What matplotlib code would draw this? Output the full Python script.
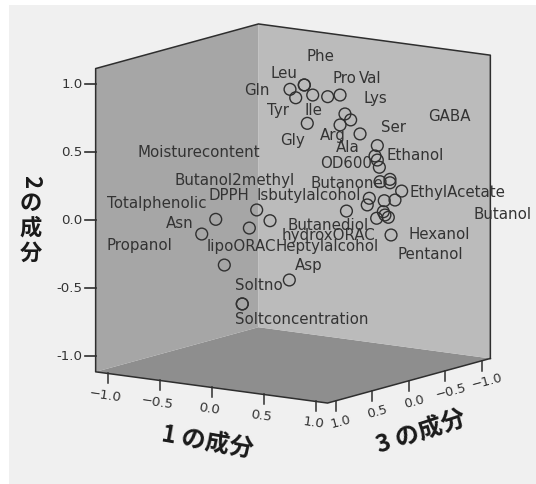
import matplotlib
matplotlib.use("Agg")
import matplotlib.pyplot as plt
from matplotlib.patches import Polygon, Rectangle

W, H = 536, 484
PX = 136.0               # pixels per plot unit
OX, OY = 293.0, 213.5    # pixel position of the cube centre
E1 = (104.0, 14.0)       # component 1 direction, px per unit
E3 = (-73.0, 20.0)       # component 3 direction, px per unit
HALF = 1.115

tick_values = [-1.0, -0.5, 0.0, 0.5, 1.0]
tick_text = ["\u22121.0", "\u22120.5", "0.0", "0.5", "1.0"]

# Points, in the projected plane of the cube (plot units)
point_h = [-0.022, 0.083, 0.083, 0.020, 0.145, 0.255, 0.346, 0.105, 0.382, 0.424, 0.346, 0.493,
           0.620, 0.603, 0.620, 0.635, 0.640, 0.713, 0.713, 0.799, 0.750, 0.671, 0.561, 0.546,
           0.664, 0.615, 0.701, 0.676, 0.721, 0.393, -0.267, -0.169, -0.568, -0.321, -0.671,
           -0.505, -0.027, -0.373, -0.373]
point_v = [0.913, 0.945, 0.945, 0.851, 0.871, 0.859, 0.871, 0.663, 0.732, 0.688, 0.651, 0.585,
           0.499, 0.423, 0.393, 0.340, 0.234, 0.251, 0.226, 0.165, 0.099, 0.094, 0.112, 0.063,
           0.013, -0.035, -0.028, -0.011, -0.158, 0.018, 0.026, -0.053, -0.043, -0.107, -0.151,
           -0.379, -0.489, -0.665, -0.665]

label_text = ["Phe", "Leu", "Gln", "Pro", "Val", "Lys", "Tyr", "Ile", "Gly", "Arg", "Ala", "Ser",
              "GABA", "Ethanol", "OD600", "Butanone", "EthylAcetate", "Butanol", "Hexanol",
              "Pentanol", "Moisturecontent", "Butanol2methyl", "DPPH", "Isbutylalcohol",
              "Totalphenolic", "Asn", "Propanol", "lipoORAC", "Butanediol", "hydroxORAC",
              "Heptylalcohol", "Asp", "Soltno", "Soltconcentration"]
label_h = [0.096, -0.162, -0.360, 0.294, 0.485, 0.522, -0.191, 0.088, -0.096, 0.199, 0.316, 0.647,
           0.993, 0.691, 0.199, 0.132, 0.860, 1.324, 0.846, 0.765, -1.147, -0.875, -0.625, -0.265,
           -1.368, -0.934, -1.375, -0.632, -0.044, -0.081, -0.132, 0.015, -0.426, -0.426]
label_v = [1.151, 1.033, 0.908, 0.996, 0.996, 0.849, 0.754, 0.761, 0.540, 0.570, 0.482, 0.636,
           0.710, 0.430, 0.364, 0.224, 0.158, -0.011, -0.151, -0.298, 0.452, 0.246, 0.129, 0.129,
           0.070, -0.070, -0.232, -0.239, -0.085, -0.165, -0.246, -0.386, -0.526, -0.783]

title_x = "1 \u306e\u6210\u5206"
title_z = "3 \u306e\u6210\u5206"
title_y_parts = ["2", "\u306e", "\u6210", "\u5206"]

WALL_L, WALL_R, FLOOR, EDGE, BG, INK = "#a6a6a6", "#bbbbbb", "#8e8e8e", "#2e2e2e", "#f0f0f0", "#333333"
CJK = ["Noto Sans CJK JP", "DejaVu Sans"]


def project(c1, c2, c3):
    h = (c1 * E1[0] + c3 * E3[0]) / PX
    v = c2 - (c1 * E1[1] + c3 * E3[1]) / PX
    return h, v


def off(p, dx, dy):
    return p[0] + dx / PX, p[1] - dy / PX


fig = plt.figure(figsize=(W / 100, H / 100), dpi=100, facecolor="white")
fig.patches.append(Rectangle((9 / W, 0), 1, 1 - 5 / H, transform=fig.transFigure, fc=BG, ec="none", zorder=-1))
ax = fig.add_axes([0, 0, 1, 1])
ax.set_xlim(-OX / PX, (W - OX) / PX)
ax.set_ylim((OY - H) / PX, OY / PX)
ax.axis("off")

L = HALF
floor = [project(-L, -L, L), project(L, -L, L), project(L, -L, -L), project(-L, -L, -L)]
left = [project(-L, -L, L), project(-L, L, L), project(-L, L, -L), project(-L, -L, -L)]
right = [project(-L, -L, -L), project(-L, L, -L), project(L, L, -L), project(L, -L, -L)]
ax.add_patch(Polygon(floor, fc=FLOOR, ec="none", zorder=1))
ax.add_patch(Polygon(left, fc=WALL_L, ec="none", zorder=1))
ax.add_patch(Polygon(right, fc=WALL_R, ec="none", zorder=1))

edges = [project(L, -L, -L), project(L, L, -L), project(-L, L, -L), project(-L, L, L),
         project(-L, -L, L), project(L, -L, L), project(L, -L, -L)]
ax.plot(*zip(*edges), color=EDGE, lw=1.1, zorder=2, solid_joinstyle="round")

for v, s in zip(tick_values, tick_text):
    a = project(-L, v, L)
    ax.plot(*zip(a, off(a, -11, 0)), color=EDGE, lw=1.2, zorder=2)
    ax.text(*off(a, -13, 0), s.replace("\u2212", "-"), ha="right", va="center", fontsize=9.6, color=INK)
    b = project(v, -L, L)
    ax.plot(*zip(b, off(b, 0, 10)), color=EDGE, lw=1.1, zorder=2)
    ax.text(*off(b, -2, 22), s, ha="center", va="center", fontsize=9.6, color=INK, rotation=-8,
            rotation_mode="anchor")
    c = project(L, -L, v)
    ax.plot(*zip(c, off(c, 0, 10)), color=EDGE, lw=1.1, zorder=2)
    ax.text(*off(c, 5, 21), s, ha="center", va="center", fontsize=9.4, color=INK, rotation=15,
            rotation_mode="anchor")

ax.scatter(point_h, point_v, s=72, facecolors="none", edgecolors="#303030", linewidths=1.0, zorder=3)
for t, h, v in zip(label_text, label_h, label_v):
    ax.text(h, v, t, ha="left", va="center", fontsize=10.8, color=INK, zorder=4)

ax.text(*off((0, 0), 207 - OX, 443 - OY), title_x, family=CJK, fontweight="bold", fontsize=17.5, color="#1a1a1a",
        ha="center", va="center", rotation=-10, rotation_mode="anchor")
ax.text(*off((0, 0), 421 - OX, 433 - OY), title_z, family=CJK, fontweight="bold", fontsize=17.5, color="#1a1a1a",
        ha="center", va="center", rotation=18, rotation_mode="anchor")
for s, py, rot in zip(title_y_parts, [182, 204, 228, 253], [-90, 0, 0, 0]):
    ax.text(*off((0, 0), 31 - OX, py - OY), s, family=CJK, fontweight="bold", fontsize=16, color="#1a1a1a",
            ha="center", va="center", rotation=rot)

fig.savefig("out.png", dpi=100)
